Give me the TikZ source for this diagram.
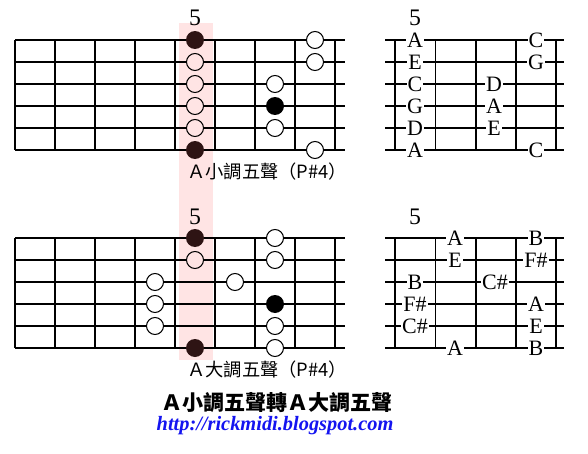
\documentclass[tikz,border=0pt]{standalone}
\usepackage{fontspec}
\setmainfont{Liberation Serif}
\newfontfamily\cjk{Noto Sans CJK TC}
\usepackage{xcolor}
\usetikzlibrary{positioning}
\definecolor{bandpink}{HTML}{FFE4E4}
\definecolor{rootbrown}{HTML}{2E1414}
\definecolor{urlblue}{HTML}{1414F0}

\begin{document}
\begin{tikzpicture}[
    x=0.02cm, y=-0.02cm,
    string/.style={line width=0.6pt},
    nut/.style={line width=1.5pt},
    rootdot/.style={circle, fill=rootbrown, minimum size=0.36cm, inner sep=0pt},
    keydot/.style={circle, fill=black, minimum size=0.36cm, inner sep=0pt},
    opendot/.style={circle, draw, line width=0.6pt, fill=white, minimum size=0.34cm, inner sep=0pt},
    banddot/.style={opendot, fill=bandpink},
    note/.style={fill=white, inner sep=0.6pt, font=\fontsize{12.5}{12.5}\selectfont},
    fretno/.style={font=\fontsize{13.5}{13.5}\selectfont},
    caption/.style={anchor=west, font=\cjk\fontsize{10.4}{12}\selectfont}
]
\useasboundingbox (0,0) rectangle (588,453);

% highlighted 5th fret
\fill[bandpink] (179,23) rectangle (213,360);

% left fretboards
\foreach \top in {40,238} {
  \foreach \s in {0,...,5}
    \draw[string] (15,\top+22*\s) -- (345,\top+22*\s);
  \foreach \f in {55,95,...,335}
    \draw[string] (\f,\top) -- (\f,\top+110);
  \draw[nut] (15,\top) -- (15,\top+110);
}

% right fretboards
\foreach \top in {40,238} {
  \foreach \s in {0,...,5}
    \draw[string] (385,\top+22*\s) -- (564,\top+22*\s);
  \foreach \f in {395,435.5,476,516,556}
    \draw[string] (\f,\top) -- (\f,\top+110);
}

% fret numbers
\node[fretno] (n1) at (195,18) {5};
\node[fretno] (n2) at (415,18) {5};
\node[fretno] (n3) at (195,217) {5};
\node[fretno] (n4) at (415,217) {5};

% A minor pentatonic
\node[rootdot] (m1) at (195,40) {};
\node[rootdot] (m6) at (195,150) {};
\foreach \y/\n in {62/m2,84/m3,106/m4,128/m5}
  \node[banddot] (\n) at (195,\y) {};
\foreach \x/\y/\n in {315/40/m7,315/62/m8,275/84/m9,275/128/m10,315/150/m11}
  \node[opendot] (\n) at (\x,\y) {};
\node[keydot] (mk) at (275,106) {};
\node[caption] (capm) at (181,172) {Ａ小調五聲（P\#4）};

% A major pentatonic
\node[rootdot] (j1) at (195,238) {};
\node[rootdot] (j6) at (195,348) {};
\node[banddot] (j2) at (195,260) {};
\foreach \x/\y/\n in {275/238/j3,275/260/j4,155/282/j5,235/282/j7,155/304/j8,155/326/j9,275/326/j10,275/348/j11}
  \node[opendot] (\n) at (\x,\y) {};
\node[keydot] (jk) at (275,304) {};
\node[caption] (capj) at (181,370) {Ａ大調五聲（P\#4）};

% note names, minor
\foreach \x/\y/\t/\n in {415/40/A/ra1,415/62/E/ra2,415/84/C/ra3,415/106/G/ra4,415/128/D/ra5,415/150/A/ra6,
    494/84/D/ra7,494/106/A/ra8,494/128/E/ra9,536/40/C/ra10,536/62/G/ra11,536/150/C/ra12}
  \node[note] (\n) at (\x,\y) {\t};

% note names, major
\foreach \x/\y/\t/\n in {415/282/B/rb1,415/304/F\#/rb2,415/326/C\#/rb3,
    455/238/A/rb4,455/260/E/rb5,455/348/A/rb6,495/282/C\#/rb7,
    536/238/B/rb8,536/260/F\#/rb9,536/304/A/rb10,536/326/E/rb11,536/348/B/rb12}
  \node[note] (\n) at (\x,\y) {\t};

% title and link
\node[font=\cjk\bfseries\fontsize{12}{14}\selectfont] (title) at (277,403) {Ａ小調五聲轉Ａ大調五聲};
\node[text=urlblue, font=\bfseries\itshape\fontsize{11.6}{13}\selectfont] (url) at (275,426) {http://rickmidi.blogspot.com};
\end{tikzpicture}
\end{document}
